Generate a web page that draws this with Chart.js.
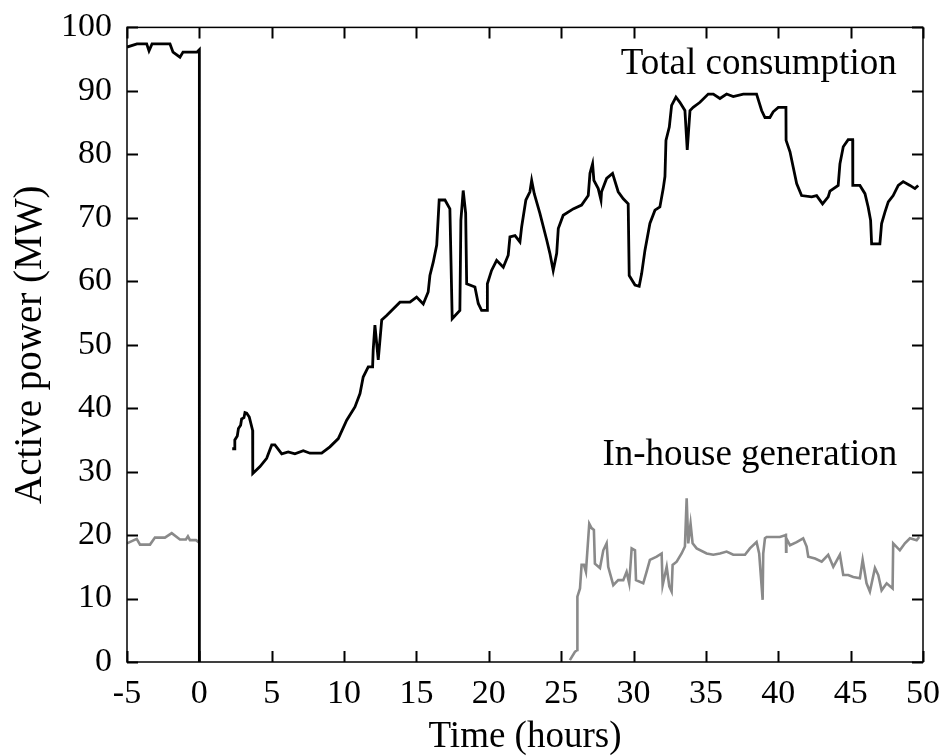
<!DOCTYPE html>
<html>
<head>
<meta charset="utf-8">
<script src="https://cdn.jsdelivr.net/npm/chart.js@4/dist/chart.umd.min.js"></script>
<style>
  html, body { margin: 0; padding: 0; background: #fff; }
  #wrap { width: 951px; height: 756px; }
</style>
</head>
<body>
<div id="wrap"><canvas id="powerChart" width="951" height="756"></canvas></div>
<script>
// total consumption, MW vs hours (null = no data)
var consumptionHours = [-5, -4.31, -3.64, -3.48, -3.27, -2.03, -1.82, -1.34, -1.13, -0.17, 0, 0, 1,
  2.27, 2.42, 2.45, 2.62, 2.70, 2.85, 2.92, 3.08, 3.15, 3.27, 3.45, 3.68, 3.69, 4.19, 4.65, 5.0, 5.22, 5.69, 6.14, 6.60, 7.18, 7.64, 8.45,
  9.02, 9.60, 10.18, 10.75, 11.10, 11.32, 11.67, 11.97, 12.01, 12.13, 12.36, 12.60, 12.94, 13.86, 14.55,
  15.01, 15.47, 15.81, 15.93, 16.16, 16.40, 16.57, 16.97, 17.31, 17.47, 18.0, 18.07, 18.23, 18.40, 18.47,
  19.04, 19.27, 19.50, 19.89, 19.90, 20.19, 20.54, 21.0, 21.34, 21.46, 21.81, 22.15, 22.27, 22.56, 22.84,
  22.96, 23.14, 23.53, 24.0, 24.22, 24.45, 24.69, 24.80, 25.14, 25.83, 26.41, 26.87, 26.99, 27.17, 27.26,
  27.56, 27.75, 27.79, 28.14, 28.55, 28.94, 29.29, 29.63, 29.70, 30.10, 30.39, 30.56, 30.79, 31.13, 31.48,
  31.82, 32.05, 32.17, 32.24, 32.47, 32.63, 32.93, 33.20, 33.55, 33.71, 33.90, 34.12, 34.59, 35.16, 35.51,
  35.97, 36.43, 36.89, 37.58, 38.50, 38.85, 39.08, 39.42, 39.65, 40.0, 40.53, 40.54, 40.81, 41.03, 41.27,
  41.61, 42.31, 42.65, 43.06, 43.45, 43.57, 44.14, 44.26, 44.49, 44.83, 45.14, 45.15, 45.64, 45.99, 46.21,
  46.38, 46.45, 47.02, 47.14, 47.37, 47.60, 47.94, 48.29, 48.63, 49.10, 49.44, 49.67];
var consumptionMW = [96.9, 97.4, 97.4, 96.3, 97.4, 97.4, 96.1, 95.3, 96.1, 96.1, 96.5, 0, null,
  33.6, 33.6, 35.0, 35.6, 36.8, 37.3, 38.3, 38.5, 39.3, 39.2, 38.6, 36.5, 29.7, 30.8, 32.1, 34.2, 34.2, 32.8, 33.1, 32.8, 33.3, 32.9, 32.9,
  33.9, 35.2, 38.1, 40.2, 42.3, 44.9, 46.5, 46.5, 49.1, 53.1, 47.6, 53.9, 54.6, 56.7, 56.7,
  57.5, 56.4, 58.3, 60.9, 63.0, 65.7, 72.8, 72.8, 71.4, 54.1, 55.4, 69.6, 74.3, 70.7, 59.6,
  59.1, 56.5, 55.4, 55.4, 59.6, 61.7, 63.3, 62.2, 64.1, 67.0, 67.2, 66.2, 68.6, 72.8, 74.1,
  75.9, 73.8, 70.7, 66.5, 64.4, 61.7, 64.4, 68.3, 70.4, 71.4, 72.0, 73.5, 77.0, 78.5, 75.9,
  74.6, 72.8, 74.1, 76.2, 77.0, 74.1, 73.0, 72.2, 60.9, 59.4, 59.2, 61.2, 64.9, 69.1, 71.2,
  71.7, 74.6, 76.5, 82.2, 84.3, 87.7, 89.0, 88.2, 86.9, 80.7, 86.9, 87.4, 88.2, 89.5, 89.5,
  88.8, 89.5, 89.1, 89.5, 89.5, 86.9, 85.8, 85.8, 86.7, 87.4, 87.4, 82.2, 80.4, 78.0, 75.4,
  73.5, 73.3, 73.5, 72.2, 73.3, 74.2, 75.1, 78.5, 81.2, 82.3, 82.3, 75.1, 75.1, 73.8, 71.7,
  69.6, 65.9, 65.9, 69.1, 70.9, 72.5, 73.5, 75.1, 75.7, 75.1, 74.6, 75.1];

// in-house generation, MW vs hours
var generationHours = [-5, -4.33, -4.10, -3.41, -3.07, -2.38, -1.91, -1.34, -0.93, -0.79, -0.65, -0.23, 0, 1,
  25.60, 25.95, 26.11, 26.12, 26.30, 26.41, 26.57, 26.71, 26.94, 27.10, 27.26, 27.33, 27.68, 27.91, 28.14,
  28.25, 28.60, 28.94, 29.29, 29.52, 29.70, 29.87, 30.10, 30.17, 30.67, 30.90, 31.13, 31.60, 31.94, 32.01,
  32.29, 32.47, 32.63, 32.70, 32.98, 33.32, 33.55, 33.67, 33.78, 33.94, 34.08, 34.36, 35.05, 35.51, 35.97,
  36.43, 36.89, 37.70, 38.04, 38.50, 38.68, 38.92, 38.96, 39.08, 39.20, 40.11, 40.53, 40.54, 40.56, 40.81,
  41.27, 41.72, 41.96, 42.07, 42.54, 43.0, 43.45, 43.80, 44.26, 44.49, 44.83, 45.18, 45.64, 45.83, 46.10,
  46.33, 46.68, 46.91, 47.14, 47.49, 47.90, 47.94, 48.40, 48.75, 49.10, 49.56, 49.74];
var generationMW = [18.7, 19.4, 18.5, 18.5, 19.6, 19.6, 20.3, 19.3, 19.3, 19.8, 19.2, 19.2, 18.8, null,
  0.3, 1.6, 1.9, 10.3, 11.6, 15.3, 15.3, 14.2, 21.8, 21.1, 20.8, 15.5, 14.8, 17.6, 18.7,
  15.0, 12.1, 12.9, 12.9, 14.2, 12.4, 17.9, 17.6, 12.9, 12.4, 14.2, 16.1, 16.6, 17.1, 12.1,
  15.0, 11.9, 11.1, 15.3, 15.8, 17.1, 18.2, 25.8, 18.7, 21.8, 18.7, 17.9, 17.1, 16.9, 17.1,
  17.4, 16.9, 16.9, 17.9, 18.9, 17.1, 9.8, 17.1, 19.5, 19.7, 19.7, 20.0, 17.4, 19.5, 18.4,
  18.9, 19.5, 18.2, 16.6, 16.3, 15.8, 16.9, 15.0, 16.9, 13.7, 13.7, 13.4, 13.2, 16.1, 12.4,
  11.1, 14.8, 13.7, 11.3, 12.4, 11.6, 18.7, 17.6, 18.7, 19.5, 19.2, 19.7];

var seriesNames = ['Total consumption', 'In-house generation'];
var xTicks = [-5, 0, 5, 10, 15, 20, 25, 30, 35, 40, 45, 50];
var yTicks = [0, 10, 20, 30, 40, 50, 60, 70, 80, 90, 100];

var SERIF = '"Liberation Serif", "DejaVu Serif", serif';

function toPoints(xs, ys) {
  var pts = [];
  for (var i = 0; i < xs.length; i++) pts.push({ x: xs[i], y: ys[i] });
  return pts;
}

// box around the plot with ticks pointing inwards on every side, plus the series labels
var frameTicks = {
  id: 'frameTicks',
  afterDatasetsDraw: function(chart) {
    var ctx = chart.ctx, a = chart.chartArea;
    var xs = chart.scales.x, ys = chart.scales.y;
    var len = 11;
    ctx.save();
    ctx.strokeStyle = '#000';
    ctx.lineWidth = 1.5;
    ctx.strokeRect(a.left, a.top, a.right - a.left, a.bottom - a.top);
    ctx.lineWidth = 2;
    ctx.beginPath();
    xTicks.forEach(function(v) {
      var px = Math.round(xs.getPixelForValue(v)) + 0.5;
      ctx.moveTo(px, a.bottom); ctx.lineTo(px, a.bottom - len);
      ctx.moveTo(px, a.top); ctx.lineTo(px, a.top + len);
    });
    yTicks.forEach(function(v) {
      var py = Math.round(ys.getPixelForValue(v)) + 0.5;
      ctx.moveTo(a.left, py); ctx.lineTo(a.left + len, py);
      ctx.moveTo(a.right, py); ctx.lineTo(a.right - len, py);
    });
    ctx.stroke();

    ctx.fillStyle = '#000';
    ctx.font = '37px ' + SERIF;
    ctx.textAlign = 'right';
    ctx.textBaseline = 'alphabetic';
    ctx.fillText(seriesNames[0], xs.getPixelForValue(48.18), ys.getPixelForValue(92.7));
    ctx.fillText(seriesNames[1], xs.getPixelForValue(48.22), ys.getPixelForValue(31.0));
    ctx.restore();
  }
};

var ctx = document.getElementById('powerChart').getContext('2d');
var powerChart = new Chart(ctx, {
  type: 'line',
  data: {
    datasets: [{
      label: seriesNames[0],
      data: toPoints(consumptionHours, consumptionMW),
      borderColor: '#000',
      borderWidth: 2.8,
      pointRadius: 0,
      tension: 0,
      spanGaps: false
    }, {
      label: seriesNames[1],
      data: toPoints(generationHours, generationMW),
      borderColor: '#8a8a8a',
      borderWidth: 2.6,
      pointRadius: 0,
      tension: 0,
      spanGaps: false
    }]
  },
  options: {
    responsive: false,
    animation: false,
    devicePixelRatio: 1,
    layout: { padding: { left: 0, top: 27, right: 28, bottom: 0 } },
    plugins: { legend: { display: false }, tooltip: { enabled: false } },
    scales: {
      x: {
        type: 'linear',
        min: -5,
        max: 50,
        afterBuildTicks: function(scale) {
          scale.ticks = xTicks.map(function(v) { return { value: v }; });
        },
        afterFit: function(scale) { scale.height = 94; },
        grid: { display: false },
        border: { display: false },
        ticks: { color: '#000', padding: 4, maxRotation: 0, font: { family: SERIF, size: 34 } },
        title: {
          display: true,
          text: 'Time (hours)',
          color: '#000',
          padding: { top: 0, bottom: 0 },
          font: { family: SERIF, size: 37, lineHeight: 1.0 }
        }
      },
      y: {
        min: 0,
        max: 100,
        afterBuildTicks: function(scale) {
          scale.ticks = yTicks.map(function(v) { return { value: v }; });
        },
        afterFit: function(scale) { scale.width = 127; },
        grid: { display: false },
        border: { display: false },
        ticks: { color: '#000', padding: 7, font: { family: SERIF, size: 34 } },
        title: {
          display: true,
          text: 'Active power (MW)',
          color: '#000',
          padding: { top: 7, bottom: 0 },
          font: { family: SERIF, size: 39 }
        }
      }
    }
  },
  plugins: [frameTicks]
});
</script>
</body>
</html>
